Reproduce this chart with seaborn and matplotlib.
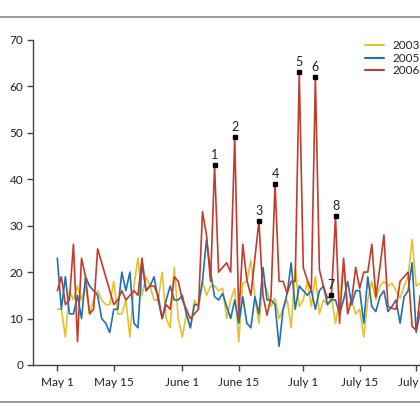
import pandas as pd
import matplotlib
matplotlib.use("Agg")
import matplotlib.pyplot as plt
from matplotlib.lines import Line2D
import seaborn as sns

# daily counts, day 0 = May 1
y2003 = [12, 12, 6, 16, 14, 17, 14, 17, 11, 14, 16, 14, 13, 13, 18, 11, 11, 14, 6, 17,
         23, 15, 19, 17, 14, 14, 20, 10, 8, 21, 10, 6, 11, 8, 14, 12, 18, 15, 17, 17,
         16, 16.5, 10, 14, 16.5, 5, 17.6, 18, 22.6, 14.7, 9, 18, 16, 12.6, 14.4, 10, 12, 14, 8, 21,
         12.6, 14, 18, 12.6, 19, 11, 14, 13, 14.7, 9, 14, 22, 12.6, 14, 11, 12, 6, 14, 18, 14,
         17, 18, 17, 17.6, 16, 14.4, 17, 19, 27, 17, 17.6]
y2005 = [23, 12, 19, 11, 11, 15, 10, 19, 17, 16, 15, 10, 9, 7, 12, 12, 20, 16, 20, 9,
         8, 22, 16, 17, 19, 14, 10, 14, 17, 14, 14, 15, 11, 8, 13, 13, 18, 27, 20, 14.7,
         14, 15.4, 12.6, 10, 14, 9, 14.7, 9, 8, 14.7, 11, 21, 14, 14, 13, 4, 12, 15.4, 22, 12,
         17, 16, 15, 16, 12, 16, 17, 13, 14, 14, 11, 14, 18, 13, 16, 16, 9, 19, 12.6, 11.5,
         14.7, 16, 11.5, 12.6, 14, 9, 14.7, 16, 22, 7, 11.5]
y2006 = [16, 19, 13, 14, 26, 5, 23, 19, 11, 12, 25, 22, 19, 16, 13, 14, 16, 14, 15, 16,
         15, 23, 16, 17, 17, 15, 10, 13, 12, 19, 18, 14, 12, 10, 11, 12, 33, 28, 18, 43,
         20, 21, 22, 20, 49, 10.4, 26, 18.3, 15, 23, 31, 15, 10.7, 14.7, 39, 18, 18, 15.4, 18, 18,
         63, 21, 18.3, 16, 62, 20.5, 16.9, 14.4, 15, 32, 9, 23, 11, 14, 21, 16.5, 20, 20, 26, 14.7,
         21, 28, 12.6, 12.2, 12, 18, 19, 20, 8.3, 7.5, 15]

years = ["2003", "2005", "2006"]
colors = ["#e6c12a", "#2171b0", "#c23b2c"]
peak_days = [39, 44, 50, 54, 60, 64, 68, 69]

tick_days = [0, 14, 31, 45, 61, 75, 89]
tick_labels = ["May 1", "May 15", "June 1", "June 15", "July 1", "July 15", "July 29"]

frames = []
for yr, vals in zip(years, [y2003, y2005, y2006]):
    frames.append(pd.DataFrame({"day": range(len(vals)), "count": vals, "year": yr}))
df = pd.concat(frames, ignore_index=True)

sns.set_style("ticks")
plt.rcParams["font.family"] = ["Lato", "DejaVu Sans"]

fig = plt.figure(figsize=(4.2, 4.2), dpi=100)
ax = fig.add_axes([0.0786, 0.131, 0.979, 0.774])

sns.lineplot(data=df, x="day", y="count", hue="year", palette=colors,
             linewidth=1.2, ax=ax, legend=False)

# numbered peaks of 2006
peaks = df[(df["year"] == "2006") & (df["day"].isin(peak_days))]
ax.plot(peaks["day"], peaks["count"], "s", color="black", ms=3.5, zorder=5)
for i, (d, v) in enumerate(zip(peaks["day"], peaks["count"])):
    ax.annotate(str(i + 1), (d, v), xytext=(0, 3), textcoords="offset points",
                ha="center", va="bottom", fontsize=9, color="#222")

ax.set_xlim(-6.03, 95.95)
ax.set_ylim(0, 70)
ax.set_xticks(tick_days)
ax.set_xticklabels(tick_labels)
ax.set_yticks(range(0, 71, 10))
ax.set_xlabel("")
ax.set_ylabel("")
sns.despine(ax=ax)
for s in ["left", "bottom"]:
    ax.spines[s].set_color("#444")
    ax.spines[s].set_linewidth(1.0)
ax.tick_params(direction="out", length=4, width=1.0, color="#444",
               labelsize=8.5, labelcolor="#222", pad=3)
ax.tick_params(axis="x", pad=5)

handles = [Line2D([], [], color=c, lw=1.5) for c in colors]
ax.legend(handles, years, loc="upper left", bbox_to_anchor=(0.869, 0.905),
          bbox_transform=fig.transFigure, frameon=False, fontsize=8.5,
          handlelength=1.6, handletextpad=0.7, labelspacing=0.15,
          borderpad=0, borderaxespad=0)

for yy in [1 - 17 / 420, 1 - 402 / 420]:
    fig.add_artist(Line2D([0, 1], [yy, yy], transform=fig.transFigure,
                          color="#888", lw=1.2))

fig.savefig("out.png", dpi=100)
